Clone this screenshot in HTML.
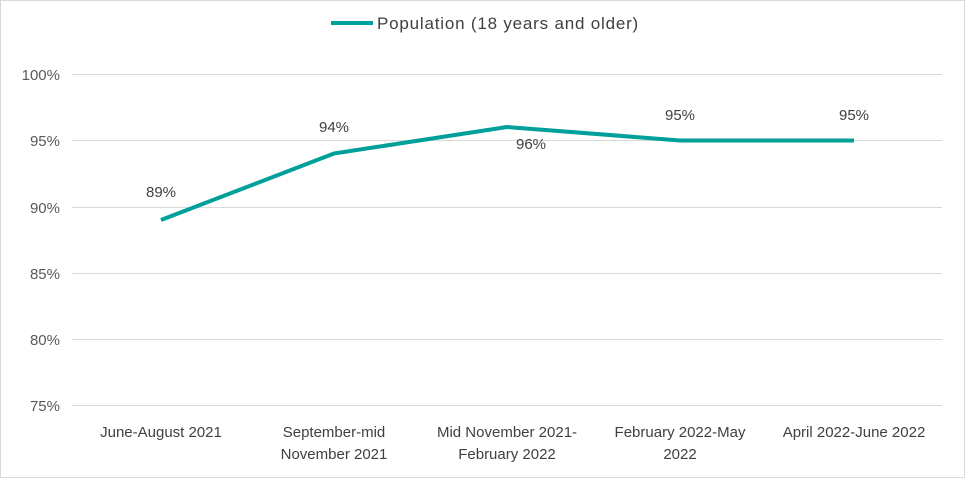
<!DOCTYPE html>
<html><head><meta charset="utf-8"><style>
body{margin:0;background:#fff}
svg{display:block;font-family:"Liberation Sans",Arial,sans-serif}
</style></head><body>
<svg width="965" height="478" viewBox="0 0 965 478" xmlns="http://www.w3.org/2000/svg">
<rect x="0.5" y="0.5" width="964" height="477" fill="#fff" stroke="#d9d9d9"/>
<g stroke="#d9d9d9" stroke-width="1">
<line x1="72" y1="74.5" x2="942" y2="74.5"/>
<line x1="72" y1="140.5" x2="942" y2="140.5"/>
<line x1="72" y1="207.5" x2="942" y2="207.5"/>
<line x1="72" y1="273.5" x2="942" y2="273.5"/>
<line x1="72" y1="339.5" x2="942" y2="339.5"/>
<line x1="72" y1="405.5" x2="942" y2="405.5"/>
</g>
<g font-size="15" fill="#595959" text-anchor="end">
<text x="60" y="80">100%</text>
<text x="60" y="146">95%</text>
<text x="60" y="213">90%</text>
<text x="60" y="279">85%</text>
<text x="60" y="345">80%</text>
<text x="60" y="411">75%</text>
</g>
<g font-size="15" fill="#404040" text-anchor="middle">
<text x="161" y="437">June-August 2021</text>
<text x="334" y="437">September-mid</text>
<text x="334" y="459">November 2021</text>
<text x="507" y="437">Mid November 2021-</text>
<text x="507" y="459">February 2022</text>
<text x="680" y="437">February 2022-May</text>
<text x="680" y="459">2022</text>
<text x="854" y="437">April 2022-June 2022</text>
</g>
<polyline points="161,220 334,153.5 507,127 680,140.5 854,140.5" fill="none" stroke="#00A09A" stroke-width="4" stroke-linejoin="round"/>
<g font-size="15" fill="#404040" text-anchor="middle">
<text x="161" y="197">89%</text>
<text x="334" y="132">94%</text>
<text x="531" y="149">96%</text>
<text x="680" y="120">95%</text>
<text x="854" y="120">95%</text>
</g>
<line x1="331" y1="23" x2="373" y2="23" stroke="#00A09A" stroke-width="4"/>
<text x="377" y="29" font-size="17" letter-spacing="0.8" fill="#404040">Population (18 years and older)</text>
</svg>
</body></html>
